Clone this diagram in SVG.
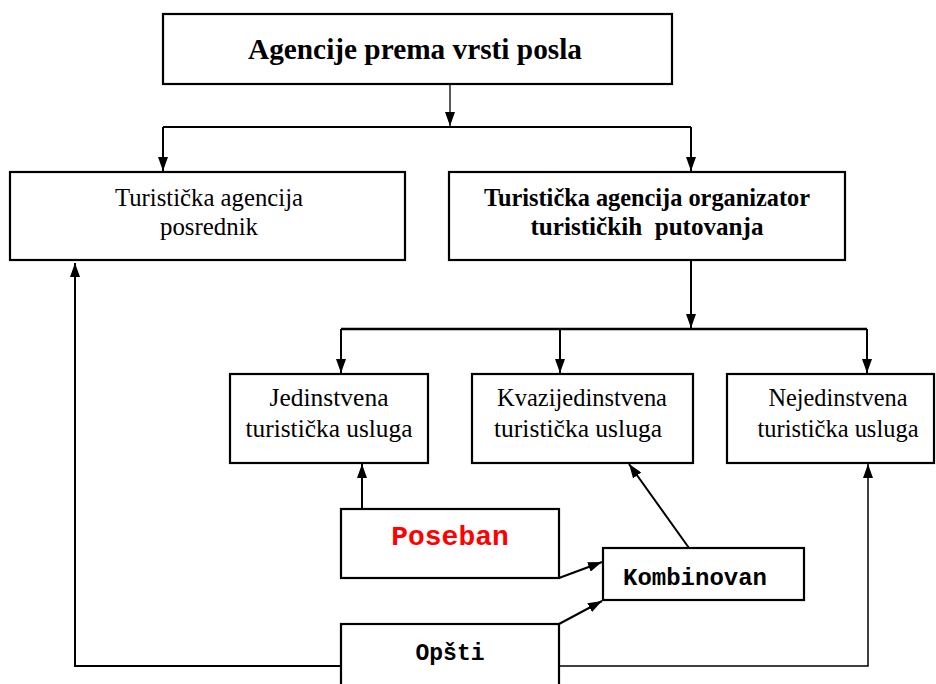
<svg xmlns="http://www.w3.org/2000/svg" width="936" height="684" viewBox="0 0 936 684">
<style>
.box{fill:#fff;stroke:#000;stroke-width:2.2}
.serif{font-family:"Liberation Serif","Times New Roman",serif;fill:#000;text-anchor:middle}
.b{font-weight:bold}
.mono{font-family:"Liberation Mono","Courier New",monospace;font-weight:bold;text-anchor:middle}
.ln{fill:none;stroke:#000;stroke-width:2}
</style>
<defs>
<marker id="ah" viewBox="0 0 10 14" refX="10" refY="7" markerWidth="14" markerHeight="10" markerUnits="userSpaceOnUse" orient="auto">
<path d="M0,0 L10,7 L0,14 z" fill="#000" transform="scale(1,1)"/>
</marker>
<marker id="ah2" viewBox="0 0 14 10" refX="14" refY="5" markerWidth="14" markerHeight="10" markerUnits="userSpaceOnUse" orient="auto">
<path d="M0,0 L14,5 L0,10 z" fill="#000"/>
</marker>
</defs>
<rect width="936" height="684" fill="#fff"/>
<g id="connectors">
<path class="ln" d="M450,84 V126" marker-end="url(#ah2)" style="stroke-width:1.3"/>
<path class="ln" d="M163,127 H691"/>
<path class="ln" d="M163,127 V171" marker-end="url(#ah2)"/>
<path class="ln" d="M691,127 V171" marker-end="url(#ah2)"/>
<path class="ln" d="M691,260 V328" marker-end="url(#ah2)"/>
<path class="ln" d="M341,329 H867" style="stroke-width:2.5"/>
<path class="ln" d="M341,329 V373" marker-end="url(#ah2)"/>
<path class="ln" d="M560,329 V373" marker-end="url(#ah2)"/>
<path class="ln" d="M867,329 V373" marker-end="url(#ah2)"/>
<path class="ln" d="M362,509 V464" marker-end="url(#ah2)"/>
<path class="ln" d="M689,548 L629,464" marker-end="url(#ah2)"/>
<path class="ln" d="M559,578 L602,562" marker-end="url(#ah2)"/>
<path class="ln" d="M559,624 L602,601" marker-end="url(#ah2)"/>
<path class="ln" d="M341,666 H75 V263" marker-end="url(#ah2)"/>
<path class="ln" d="M559,666 H868 V464" marker-end="url(#ah2)" style="stroke-width:1.5"/>
</g>
<g id="n-top">
<rect class="box" x="163" y="14" width="509" height="70"/>
<text class="serif b" x="415" y="59" font-size="30" textLength="334" lengthAdjust="spacingAndGlyphs">Agencije prema vrsti posla</text>
</g>
<g id="n-posrednik">
<rect class="box" x="10" y="172" width="395" height="88"/>
<text class="serif" x="209" y="206" font-size="26" textLength="188" lengthAdjust="spacingAndGlyphs">Turistička agencija</text>
<text class="serif" x="209" y="235" font-size="26" textLength="98" lengthAdjust="spacingAndGlyphs">posrednik</text>
</g>
<g id="n-organizator">
<rect class="box" x="449" y="172" width="396" height="88"/>
<text class="serif b" x="647" y="206" font-size="26" textLength="326" lengthAdjust="spacingAndGlyphs">Turistička agencija organizator</text>
<text class="serif b" x="647" y="235" font-size="26" textLength="233" lengthAdjust="spacingAndGlyphs" xml:space="preserve">turističkih  putovanja</text>
</g>
<g id="n-jedinstvena">
<rect class="box" x="230" y="374" width="198" height="89"/>
<text class="serif" x="329" y="406" font-size="26" textLength="119" lengthAdjust="spacingAndGlyphs">Jedinstvena</text>
<text class="serif" x="329" y="437" font-size="26" textLength="167" lengthAdjust="spacingAndGlyphs">turistička usluga</text>
</g>
<g id="n-kvazi">
<rect class="box" x="472" y="374" width="221" height="89"/>
<text class="serif" x="582" y="406" font-size="26" textLength="170" lengthAdjust="spacingAndGlyphs">Kvazijedinstvena</text>
<text class="serif" x="578" y="437" font-size="26" textLength="168" lengthAdjust="spacingAndGlyphs">turistička usluga</text>
</g>
<g id="n-nejedinstvena">
<rect class="box" x="727" y="374" width="207" height="89"/>
<text class="serif" x="838" y="406" font-size="26" textLength="139" lengthAdjust="spacingAndGlyphs">Nejedinstvena</text>
<text class="serif" x="838" y="437" font-size="26" textLength="161" lengthAdjust="spacingAndGlyphs">turistička usluga</text>
</g>
<g id="n-poseban">
<rect class="box" x="341" y="509" width="218" height="69"/>
<text class="mono" x="450" y="545" font-size="28" fill="#ff0000">Poseban</text>
</g>
<g id="n-kombinovan">
<rect class="box" x="603" y="548" width="201" height="52"/>
<text class="mono" x="695" y="585" font-size="24" fill="#000">Kombinovan</text>
</g>
<g id="n-opsti">
<rect class="box" x="341" y="624" width="218" height="70"/>
<text class="mono" x="450" y="660" font-size="23" fill="#000">Opšti</text>
</g>
</svg>
